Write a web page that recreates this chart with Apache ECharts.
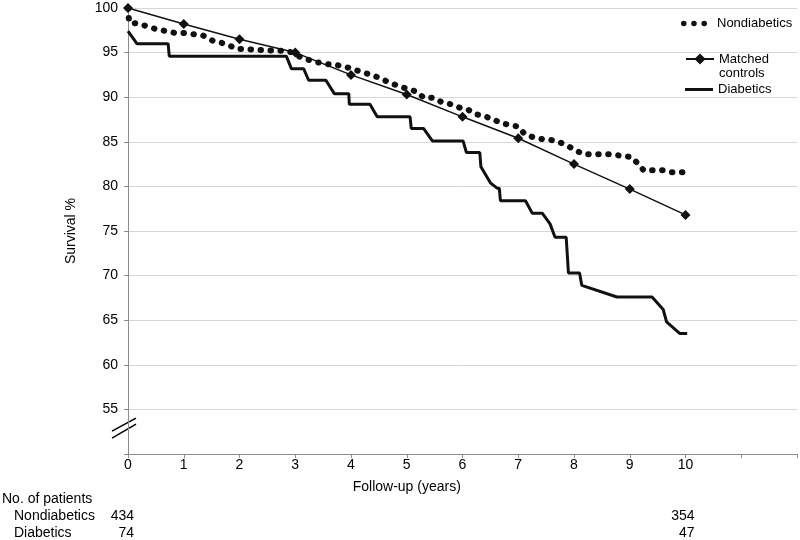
<!DOCTYPE html>
<html><head><meta charset="utf-8">
<script src="https://cdn.jsdelivr.net/npm/echarts@6/dist/echarts.min.js"></script>
<style>html,body{margin:0;padding:0;background:#fff}#c{width:800px;height:540px}</style>
</head><body><div id="c"></div>
<script>
const FONT = '"Liberation Sans", Arial, sans-serif';

const seriesNames = ['Nondiabetics', 'Matched controls', 'Diabetics'];
const xTickLabels = ['0','1','2','3','4','5','6','7','8','9','10'];
const yTickLabels = ['55','60','65','70','75','80','85','90','95','100'];

const matchedYears = [0,1,2,3,4,5,6,7,8,9,10];
const matchedSurvival = [100,98.2,96.5,95.0,92.5,90.3,87.8,85.4,82.5,79.7,76.8];

const nondiabeticTime = [0,0.02,0.22,0.36,0.52,0.7,0.84,1.0,1.18,1.35,1.53,1.65,1.8,1.96,2.12,2.3,2.46,2.64,2.8,2.96,3.09,3.23,3.41,3.59,3.75,3.93,4.08,4.26,4.42,4.56,4.71,4.85,5.03,5.19,5.3,5.48,5.64,5.8,5.96,6.1,6.23,6.37,6.53,6.68,6.84,7.0,7.11,7.27,7.43,7.59,7.76,7.9,8.04,8.17,8.33,8.51,8.69,8.87,9.03,9.14,9.25,9.41,9.59,9.73,9.89,10.04];
const nondiabeticSurvival = [100,98.4,98.2,97.9,97.6,97.4,97.2,97.2,97.05,96.9,96.3,96.15,95.85,95.4,95.4,95.3,95.3,95.2,95.2,95.0,94.5,94.2,93.9,93.7,93.6,93.35,93.05,92.7,92.4,92.0,91.6,91.25,90.9,90.6,89.95,89.95,89.4,89.2,88.8,88.6,88.1,87.9,87.6,87.1,86.9,86.7,85.9,85.5,85.3,85.2,84.9,84.5,84.0,83.6,83.6,83.6,83.6,83.4,83.3,82.6,81.8,81.8,81.8,81.6,81.6,81.6];

const diabeticTime = [0,0.16,0.72,0.74,2.84,2.93,3.15,3.24,3.55,3.7,3.96,3.97,4.34,4.47,5.06,5.08,5.3,5.46,6.01,6.07,6.31,6.33,6.5,6.62,6.66,6.68,7.13,7.25,7.43,7.57,7.66,7.86,7.9,8.1,8.14,8.77,9.4,9.6,9.66,9.9,10.03];
const diabeticSurvival = [97.4,96.0,96.0,94.6,94.6,93.2,93.2,91.9,91.9,90.4,90.4,89.2,89.2,87.8,87.8,86.5,86.5,85.1,85.1,83.8,83.8,82.2,80.4,79.8,79.8,78.4,78.4,77.0,77.0,75.8,74.3,74.3,70.3,70.3,68.9,67.6,67.6,66.2,64.8,63.5,63.5];

const tableTitle = 'No. of patients';
const patientRows = ['Nondiabetics', 'Diabetics'];
const patientsAtStart = ['434', '74'];
const patientsAtEnd = ['354', '47'];
const xAxisTitle = 'Follow-up (years)';

const pairs = (xs, ys) => xs.map((x, i) => [x, ys[i]]);

const chart = echarts.init(document.getElementById('c'), null, {renderer: 'canvas'});
const textBase = {fontFamily: FONT, color: '#000'};
const dotsIcon = 'path://M0,3a3,3 0 1,0 6,0a3,3 0 1,0 -6,0ZM11,3a3,3 0 1,0 6,0a3,3 0 1,0 -6,0ZM22,3a3,3 0 1,0 6,0a3,3 0 1,0 -6,0Z';
const legendText = Object.assign({fontSize: 13, rich: {sp: {width: 5}, t: {fontSize: 13, fontFamily: FONT, color: '#000'}}}, textBase);

chart.setOption({
  animation: false,
  backgroundColor: '#fff',
  grid: {left: 128, right: 3, top: 8, bottom: 86},
  xAxis: {
    type: 'value', min: 0, max: 12, interval: 1,
    axisLine: {lineStyle: {color: '#8c8c8c', width: 1}},
    axisTick: {show: true, length: 4, lineStyle: {color: '#8c8c8c'}},
    axisLabel: Object.assign({margin: 4, fontSize: 14,
      formatter: v => (v <= 10 ? xTickLabels[v] : '')}, textBase),
    splitLine: {show: false}
  },
  yAxis: {
    type: 'value', min: 50, max: 100, interval: 5,
    name: 'Survival %', nameLocation: 'middle', nameGap: 50,
    nameTextStyle: Object.assign({fontSize: 14}, textBase),
    axisLine: {show: true, lineStyle: {color: '#8c8c8c', width: 1}},
    axisTick: {show: true, length: 4, lineStyle: {color: '#8c8c8c'}},
    axisLabel: Object.assign({margin: 10, fontSize: 14,
      formatter: v => (v === 50 ? '' : yTickLabels[(v - 55) / 5])}, textBase),
    splitLine: {show: true, lineStyle: {color: '#d6d6d6', width: 1}}
  },
  legend: [
    {data: [{name: seriesNames[0], icon: dotsIcon}], left: 681, top: 17, padding: 0,
     itemWidth: 26, itemHeight: 6, formatter: n => '{sp|}{t|' + n + '}', textStyle: legendText},
    {data: [seriesNames[1]], left: 685, top: 38, padding: 0, itemWidth: 28, itemHeight: 14,
     formatter: () => ' \nMatched\ncontrols',
     textStyle: Object.assign({fontSize: 13, lineHeight: 14}, textBase)},
    {data: [{name: seriesNames[2], icon: 'rect'}], left: 685, top: 83, padding: 0,
     itemWidth: 28, itemHeight: 3, textStyle: Object.assign({fontSize: 13}, textBase)}
  ],
  series: [
    {name: seriesNames[0], type: 'line', data: pairs(nondiabeticTime, nondiabeticSurvival),
     symbol: 'none', z: 3,
     lineStyle: {color: '#111', width: 6, type: [0.5, 9.5], cap: 'round'},
     itemStyle: {color: '#111'}},
    {name: seriesNames[1], type: 'line', data: pairs(matchedYears, matchedSurvival),
     symbol: 'diamond', symbolSize: 10, showSymbol: true, z: 4,
     lineStyle: {color: '#111', width: 1.5}, itemStyle: {color: '#111'}},
    {name: seriesNames[2], type: 'line', data: pairs(diabeticTime, diabeticSurvival),
     symbol: 'none', z: 2,
     lineStyle: {color: '#111', width: 3}, itemStyle: {color: '#111'}}
  ]
});

// decorations positioned from the axes' own scales
const p0 = chart.convertToPixel({gridIndex: 0}, [0, 50]);
const p10 = chart.convertToPixel({gridIndex: 0}, [10, 50]);
const pMid = chart.convertToPixel({gridIndex: 0}, [5, 50]);
const pBreak = chart.convertToPixel({gridIndex: 0}, [0, 52.9]);
const rowY = [p0[1] + 62, p0[1] + 79];
const graphics = [
  {type: 'line', shape: {x1: pBreak[0] - 16, y1: pBreak[1] + 3, x2: pBreak[0] + 8, y2: pBreak[1] - 10},
   style: {stroke: '#000', lineWidth: 1.5}},
  {type: 'line', shape: {x1: pBreak[0] - 16, y1: pBreak[1] + 10, x2: pBreak[0] + 8, y2: pBreak[1] - 4},
   style: {stroke: '#000', lineWidth: 1.5}},
  {type: 'text', x: pMid[0], y: p0[1] + 33,
   style: {text: xAxisTitle, font: '14px ' + FONT, fill: '#000', align: 'center', verticalAlign: 'middle'}},
  {type: 'text', x: 2, y: p0[1] + 45,
   style: {text: tableTitle, font: '14px ' + FONT, fill: '#000', align: 'left', verticalAlign: 'middle'}}
];
patientRows.forEach((name, i) => {
  graphics.push({type: 'text', x: 14, y: rowY[i],
    style: {text: name, font: '14px ' + FONT, fill: '#000', align: 'left', verticalAlign: 'middle'}});
  graphics.push({type: 'text', x: p0[0] + 6, y: rowY[i],
    style: {text: patientsAtStart[i], font: '14px ' + FONT, fill: '#000', align: 'right', verticalAlign: 'middle'}});
  graphics.push({type: 'text', x: p10[0] + 9, y: rowY[i],
    style: {text: patientsAtEnd[i], font: '14px ' + FONT, fill: '#000', align: 'right', verticalAlign: 'middle'}});
});
chart.setOption({graphic: graphics});
</script>
</body></html>
